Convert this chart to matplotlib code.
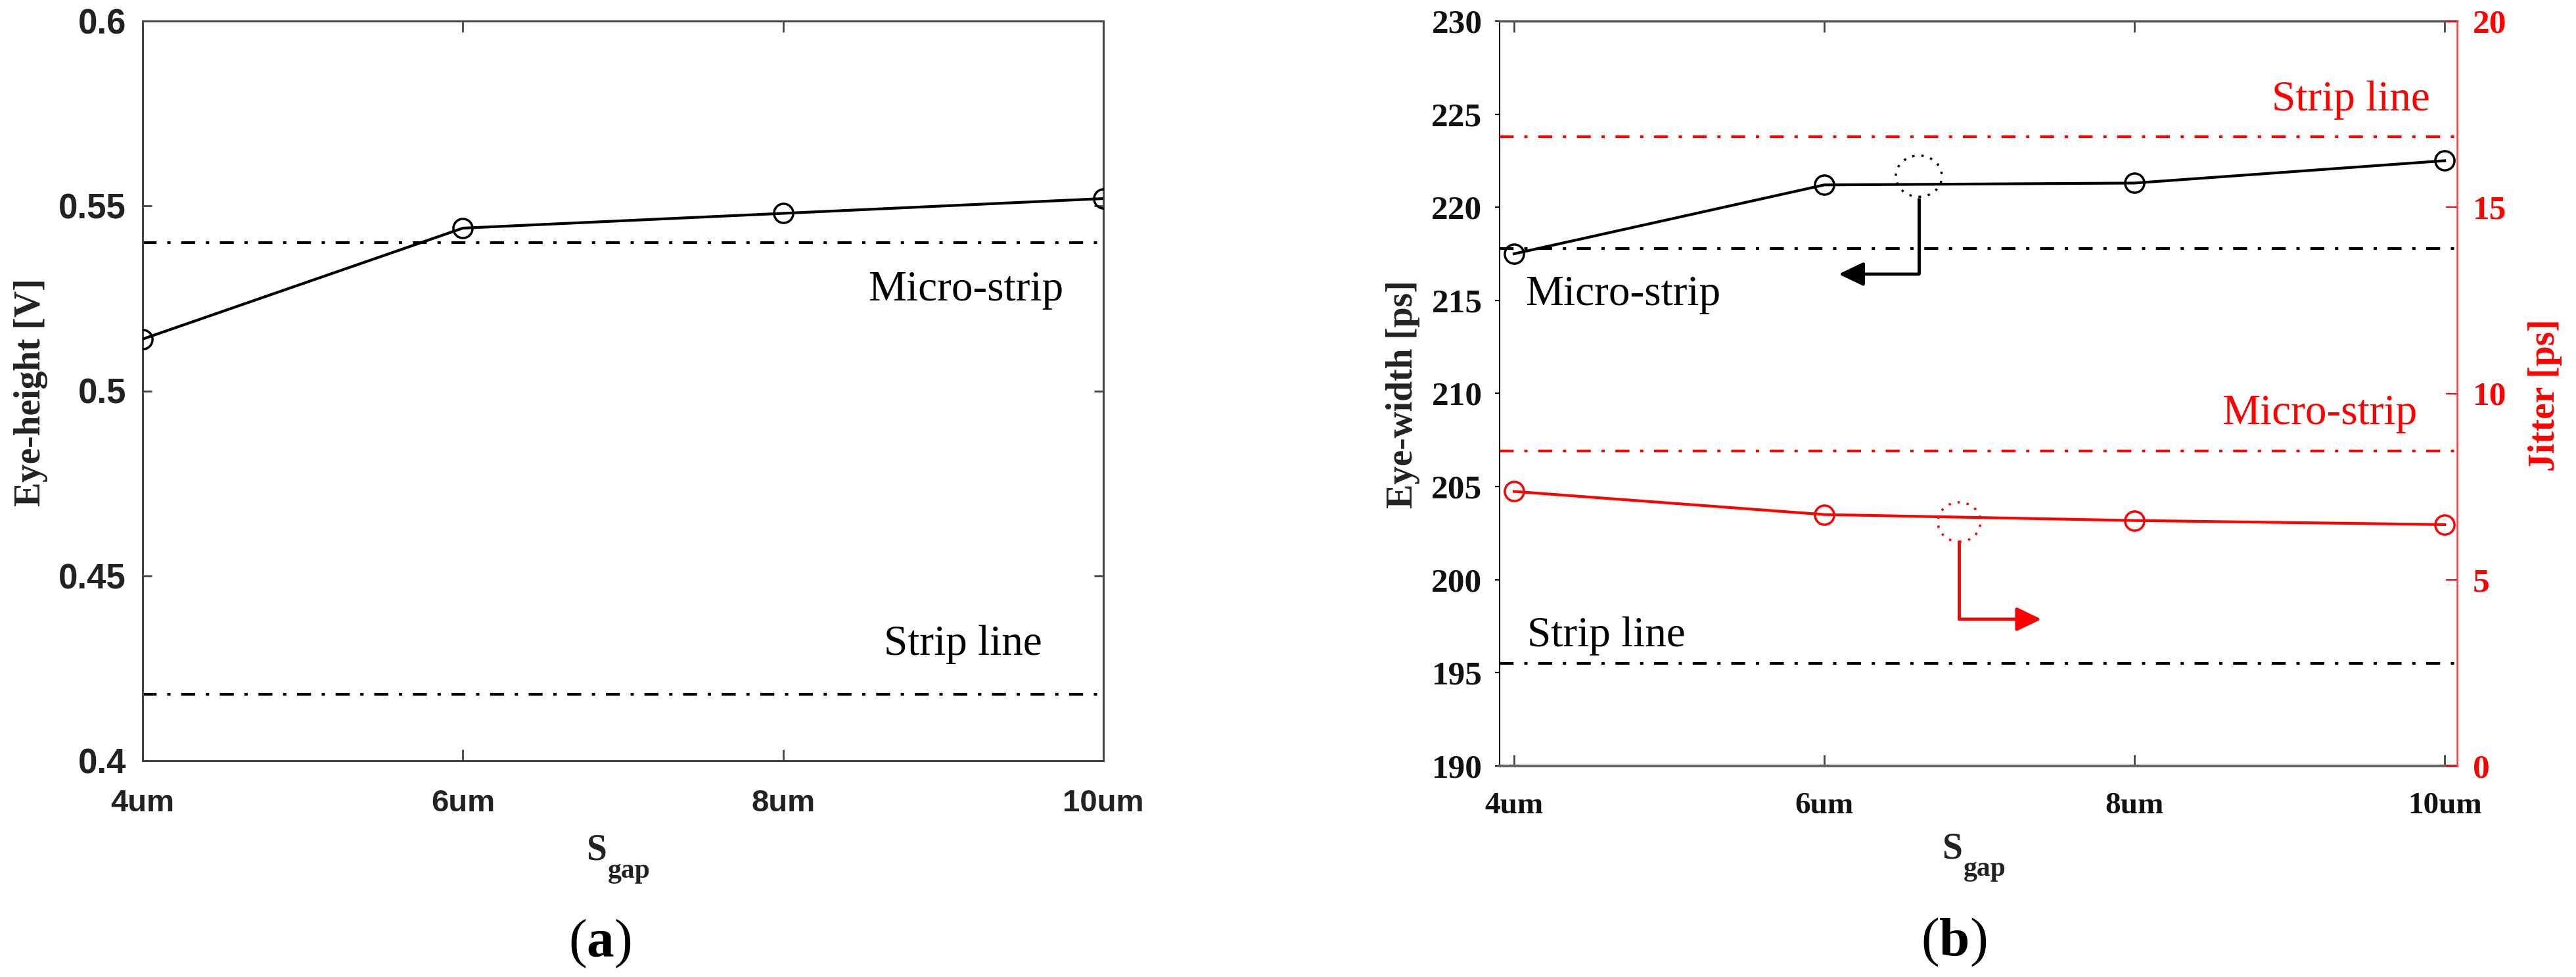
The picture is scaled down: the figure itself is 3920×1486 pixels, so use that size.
import numpy as np
import matplotlib
matplotlib.use('Agg')
import matplotlib.pyplot as plt
from matplotlib.patches import Ellipse, FancyArrowPatch

plt.rcParams['font.family'] = ['Liberation Serif', 'DejaVu Serif']
plt.rcParams['mathtext.fontset'] = 'custom'
plt.rcParams['mathtext.rm'] = 'Liberation Serif'
plt.rcParams['mathtext.bf'] = 'Liberation Serif:bold'

# data
gap_um = [4, 6, 8, 10]
gap_labels = ['4um', '6um', '8um', '10um']

eye_height = [0.514, 0.544, 0.548, 0.552]
eh_microstrip = 0.540
eh_stripline = 0.418

eye_width = [217.5, 221.2, 221.3, 222.5]
ew_microstrip = 217.8
ew_stripline = 195.5

jitter = [7.37, 6.75, 6.59, 6.48]
jit_stripline = 16.9
jit_microstrip = 8.46

RED = '#ff0000'
W, H = 3920, 1486


def fx(px):
    return px / W


def fy(py):
    return 1 - py / H


dashdot = (0, (5.1, 3.9, 1.2, 3.9))

fig = plt.figure(figsize=(39.2, 14.86), dpi=100)

# %% panel (a)
axa = fig.add_axes([fx(217), fy(1157), (1679 - 217) / W, (1157 - 32) / H])
axa.plot(gap_um, eye_height, color='black', lw=3, marker='o', ms=21,
         mfc='none', mec='black', mew=2.5, zorder=3)
axa.axhline(eh_microstrip, color='black', lw=3, ls=dashdot, dash_capstyle='butt')
axa.axhline(eh_stripline, color='black', lw=3, ls=dashdot, dash_capstyle='butt')
axa.set_xlim(4, 10)
axa.set_ylim(0.4, 0.6)
axa.set_xticks(gap_um)
axa.set_xticklabels(gap_labels)
axa.set_yticks([0.4, 0.45, 0.5, 0.55, 0.6])
axa.set_yticklabels(['0.4', '0.45', '0.5', '0.55', '0.6'])
axa.tick_params(axis='both', direction='in', color='#444444', width=2, top=True, right=True)
axa.tick_params(axis='x', length=12, pad=31)
axa.tick_params(axis='y', length=10, pad=18)
for lab in axa.get_xticklabels():
    lab.set_fontfamily('Liberation Sans')
    lab.set_fontweight('bold')
    lab.set_fontsize(34)
    lab.set_color('#222222')
for lab in axa.get_yticklabels():
    lab.set_fontfamily('Liberation Sans')
    lab.set_fontweight('bold')
    lab.set_fontsize(38)
    lab.set_color('#222222')
for sp in axa.spines.values():
    sp.set_color('#444444')
    sp.set_linewidth(2.2)

axa.text(8.53, 0.5244, 'Micro-strip', fontsize=47, color='black', ha='left', va='baseline')
axa.text(8.63, 0.4286, 'Strip line', fontsize=47, color='black', ha='left', va='baseline')

fig.text(fx(47), fy(597), 'Eye-height [V]', rotation=90, ha='center', va='center',
         fontsize=40, fontweight='bold', color='#222222')
fig.text(fx(907), fy(1307), 'S', ha='center', va='baseline', fontsize=40,
         fontweight='bold', color='#222222')
fig.text(fx(925), fy(1335), 'gap', ha='left', va='baseline', fontsize=30,
         fontweight='bold', color='#222222')
fig.text(fx(913), fy(1435), r'($\mathbf{a}$)', ha='center', va='center', fontsize=60)

# %% panel (b)
axb = fig.add_axes([fx(2282), fy(1165), (3739 - 2282) / W, (1165 - 32) / H])
ax2 = axb.twinx()

axb.plot(gap_um, eye_width, color='black', lw=3, marker='o', ms=21,
         mfc='none', mec='black', mew=2.5, zorder=3)
axb.axhline(ew_microstrip, color='black', lw=3, ls=dashdot, dash_capstyle='butt')
axb.axhline(ew_stripline, color='black', lw=3, ls=dashdot, dash_capstyle='butt')
axb.set_xlim(3.907, 10.08)
axb.set_ylim(190, 230)
axb.set_xticks(gap_um)
axb.set_xticklabels(gap_labels)
axb.set_yticks(np.arange(190, 231, 5))
axb.tick_params(axis='x', direction='in', length=12, width=2, color='#444444',
                top=True, pad=29, labelsize=34)
axb.tick_params(axis='y', direction='out', length=5, width=1.5, color='black',
                right=False, pad=14, labelsize=37)
for lab in axb.get_xticklabels() + axb.get_yticklabels():
    lab.set_fontweight('bold')
    lab.set_color('#111111')

ax2.plot(gap_um, jitter, color=RED, lw=3, marker='o', ms=21,
         mfc='none', mec=RED, mew=2.5, zorder=3)
ax2.axhline(jit_stripline, color=RED, lw=3, ls=dashdot, dash_capstyle='butt')
ax2.axhline(jit_microstrip, color=RED, lw=3, ls=dashdot, dash_capstyle='butt')
ax2.set_ylim(0, 20)
ax2.set_yticks([0, 5, 10, 15, 20])
ax2.tick_params(axis='y', direction='in', length=12, width=1.5, colors=RED,
                pad=17, labelsize=37)
for lab in ax2.get_yticklabels():
    lab.set_fontweight('bold')

axb.spines['left'].set_color('black')
axb.spines['left'].set_linewidth(1.5)
axb.spines['bottom'].set_color('#666666')
axb.spines['bottom'].set_linewidth(3)
axb.spines['top'].set_color('#555555')
axb.spines['top'].set_linewidth(2.5)
ax2.spines['right'].set_color('#ff4040')
ax2.spines['right'].set_linewidth(1.8)
for s in ['left', 'top', 'bottom']:
    ax2.spines[s].set_visible(False)
axb.spines['right'].set_visible(False)

axb.text(4.072, 214.75, 'Micro-strip', fontsize=47, color='black', ha='left', va='baseline')
axb.text(4.085, 196.43, 'Strip line', fontsize=47, color='black', ha='left', va='baseline')
ax2.text(8.886, (225.2 - 190) / 2, 'Strip line', fontsize=47, color=RED, ha='left', va='baseline')
ax2.text(8.564, (208.36 - 190) / 2, 'Micro-strip', fontsize=47, color=RED, ha='left', va='baseline')

# dotted circles + pointer arrows
axb.add_patch(Ellipse((6.61, 221.67), 0.297, 2.22, fill=False, ec='black',
                      lw=2.5, ls=(0, (1, 3)), zorder=4))
axb.plot([6.61, 6.61], [220.5, 216.41], color='black', lw=3.5, solid_capstyle='butt')
axb.add_patch(FancyArrowPatch((6.61, 216.41), (6.093, 216.41),
                              arrowstyle='-|>,head_length=23,head_width=11',
                              mutation_scale=1, color='black', lw=3.5,
                              shrinkA=0, shrinkB=0, zorder=4))

ax2.add_patch(Ellipse((6.87, 6.55), 0.275, 1.06, fill=False, ec=RED,
                      lw=2.5, ls=(0, (1, 3)), zorder=4))
ax2.plot([6.87, 6.87], [6.04, 3.94], color=RED, lw=3.5, solid_capstyle='butt')
ax2.add_patch(FancyArrowPatch((6.87, 3.94), (7.40, 3.94),
                              arrowstyle='-|>,head_length=23,head_width=11',
                              mutation_scale=1, color=RED, lw=3.5,
                              shrinkA=0, shrinkB=0, zorder=4))

fig.text(fx(2135), fy(600), 'Eye-width [ps]', rotation=90, ha='center', va='center',
         fontsize=40, fontweight='bold', color='#222222')
fig.text(fx(3873), fy(601), 'Jitter [ps]', rotation=90, ha='center', va='center',
         fontsize=40, fontweight='bold', color=RED)
fig.text(fx(2970), fy(1306), 'S', ha='center', va='baseline', fontsize=40,
         fontweight='bold', color='#222222')
fig.text(fx(2988), fy(1332), 'gap', ha='left', va='baseline', fontsize=30,
         fontweight='bold', color='#222222')
fig.text(fx(2973), fy(1433), r'($\mathbf{b}$)', ha='center', va='center', fontsize=60)

fig.savefig('out.png', dpi=100)
